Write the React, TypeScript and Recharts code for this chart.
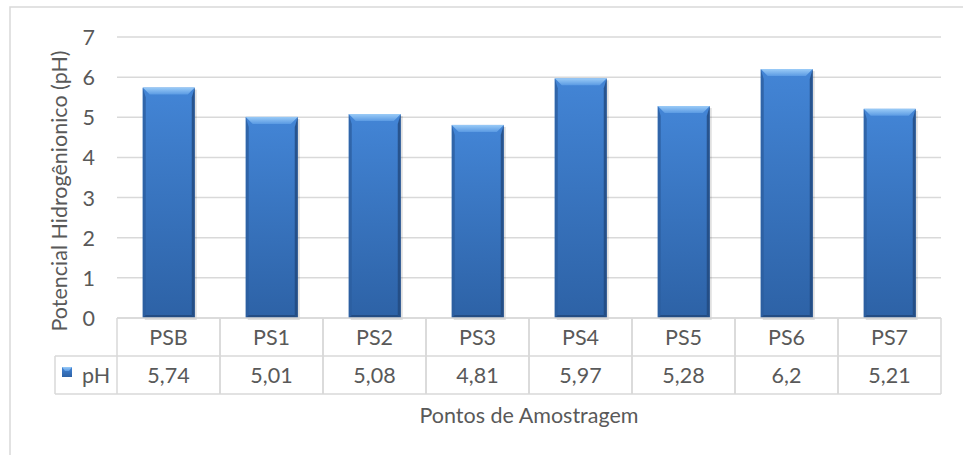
import React from 'react';
import { BarChart, Bar, XAxis, YAxis, CartesianGrid } from 'recharts';

const pontos = ['PSB', 'PS1', 'PS2', 'PS3', 'PS4', 'PS5', 'PS6', 'PS7'];
const valoresPH = [5.74, 5.01, 5.08, 4.81, 5.97, 5.28, 6.2, 5.21];
const yTicks = [0, 1, 2, 3, 4, 5, 6, 7];

const data = pontos.map((ponto, i) => ({ ponto, pH: valoresPH[i] }));

const W = 963;
const H = 455;
const M = { top: 37, right: 22, left: 0, bottom: 0 };
const Y_AXIS_W = 117;
const PLOT_W = W - M.left - M.right - Y_AXIS_W;
const CELL_W = PLOT_W / pontos.length;
const AXIS_Y = 318;
const ROW1_Y = 356;
const ROW2_Y = 394;
const GRID = '#d9d9d9';
const TXT = '#595959';
const FONT = 'Lato, "Open Sans", sans-serif';
const FS = 21.5;

const fmt = (v: number) => String(v).replace('.', ',');

const BevelBar = (props: any) => {
  const { x, y, width, height } = props;
  if (!height || height <= 0) return null;
  const b = 7;
  const s = 3;
  const bot = y + height;
  return (
    <g>
      <rect x={x + 2} y={y + 2} width={width} height={height} fill="#000" opacity={0.12} />
      <rect x={x} y={y} width={width} height={height} fill="url(#barBody)" />
      <polygon
        points={`${x},${y} ${x + s},${y + b + 3} ${x + s},${bot - s} ${x},${bot}`}
        fill="#2c5e9f"
        opacity={0.8}
      />
      <polygon
        points={`${x + width},${y} ${x + width - s},${y + b + 3} ${x + width - s},${bot - s} ${x + width},${bot}`}
        fill="#22497d"
        opacity={0.8}
      />
      <polygon
        points={`${x},${bot} ${x + s},${bot - s} ${x + width - s},${bot - s} ${x + width},${bot}`}
        fill="#22497d"
        opacity={0.85}
      />
      <polygon
        points={`${x},${y} ${x + width},${y} ${x + width - b},${y + b} ${x + b},${y + b}`}
        fill="url(#barTop)"
      />
    </g>
  );
};

const TableTick = (props: any) => {
  const { x, payload } = props;
  const i = payload.index;
  const left = x - CELL_W / 2;
  return (
    <g>
      {i === 0 && (
        <g>
          <line x1={55} y1={ROW1_Y} x2={left} y2={ROW1_Y} stroke={GRID} strokeWidth={1.5} />
          <line x1={55} y1={ROW2_Y} x2={left} y2={ROW2_Y} stroke={GRID} strokeWidth={1.5} />
          <line x1={55} y1={ROW1_Y} x2={55} y2={ROW2_Y} stroke={GRID} strokeWidth={1.5} />
          <rect x={62} y={367} width={10} height={10} fill="url(#barBody)" />
          <polygon points="62,367 72,367 69,371 65,371" fill="url(#barTop)" />
          <text x={82} y={(ROW1_Y + ROW2_Y) / 2} dominantBaseline="central" fill={TXT} fontSize={FS} fontFamily={FONT}>
            pH
          </text>
        </g>
      )}
      <line x1={left} y1={AXIS_Y} x2={left} y2={ROW2_Y} stroke={GRID} strokeWidth={1.5} />
      <line x1={left + CELL_W} y1={AXIS_Y} x2={left + CELL_W} y2={ROW2_Y} stroke={GRID} strokeWidth={1.5} />
      <line x1={left} y1={ROW1_Y} x2={left + CELL_W} y2={ROW1_Y} stroke={GRID} strokeWidth={1.5} />
      <line x1={left} y1={ROW2_Y} x2={left + CELL_W} y2={ROW2_Y} stroke={GRID} strokeWidth={1.5} />
      <text x={x} y={(AXIS_Y + ROW1_Y) / 2} textAnchor="middle" dominantBaseline="central" fill={TXT} fontSize={FS} fontFamily={FONT}>
        {payload.value}
      </text>
      <text x={x} y={(ROW1_Y + ROW2_Y) / 2} textAnchor="middle" dominantBaseline="central" fill={TXT} fontSize={FS} fontFamily={FONT}>
        {fmt(valoresPH[i])}
      </text>
    </g>
  );
};

const YTick = (props: any) => {
  const { y, payload } = props;
  return (
    <text x={95} y={y} textAnchor="end" dominantBaseline="central" fill={TXT} fontSize={FS} fontFamily={FONT}>
      {payload.value}
    </text>
  );
};

export default function App() {
  return (
    <div style={{ position: 'absolute', left: 0, top: 0, width: W, height: H, background: '#fff' }}>
      <BarChart width={W} height={H} data={data} margin={M} barCategoryGap="25%">
        <defs>
          <linearGradient id="barBody" x1="0" y1="0" x2="0" y2="1">
            <stop offset="0%" stopColor="#4385d6" />
            <stop offset="100%" stopColor="#2d62a6" />
          </linearGradient>
          <linearGradient id="barTop" x1="0" y1="0" x2="0" y2="1">
            <stop offset="0%" stopColor="#9acbf7" />
            <stop offset="100%" stopColor="#5a9ae3" />
          </linearGradient>
        </defs>
        <rect x={10} y={7} width={1000} height={600} fill="none" stroke={GRID} strokeWidth={1.5} />
        <CartesianGrid vertical={false} stroke={GRID} strokeWidth={1.5} />
        <YAxis
          width={Y_AXIS_W}
          domain={[0, 7]}
          ticks={yTicks}
          axisLine={false}
          tickLine={false}
          tick={<YTick />}
          label={{
            value: 'Potencial Hidrogênionico (pH)',
            content: () => (
              <text
                x={59}
                y={191}
                transform="rotate(-90 59 191)"
                textAnchor="middle"
                dominantBaseline="central"
                fill={TXT}
                fontSize={FS}
                fontFamily={FONT}
              >
                Potencial Hidrogênionico (pH)
              </text>
            ),
          }}
        />
        <XAxis
          dataKey="ponto"
          height={H - AXIS_Y}
          axisLine={{ stroke: GRID, strokeWidth: 1.5 }}
          tickLine={false}
          interval={0}
          tick={<TableTick />}
          label={{
            value: 'Pontos de Amostragem',
            content: () => (
              <text x={M.left + Y_AXIS_W + PLOT_W / 2} y={415} textAnchor="middle" dominantBaseline="central" fill={TXT} fontSize={FS} fontFamily={FONT}>
                Pontos de Amostragem
              </text>
            ),
          }}
        />
        <Bar dataKey="pH" shape={<BevelBar />} isAnimationActive={false} />
      </BarChart>
    </div>
  );
}
